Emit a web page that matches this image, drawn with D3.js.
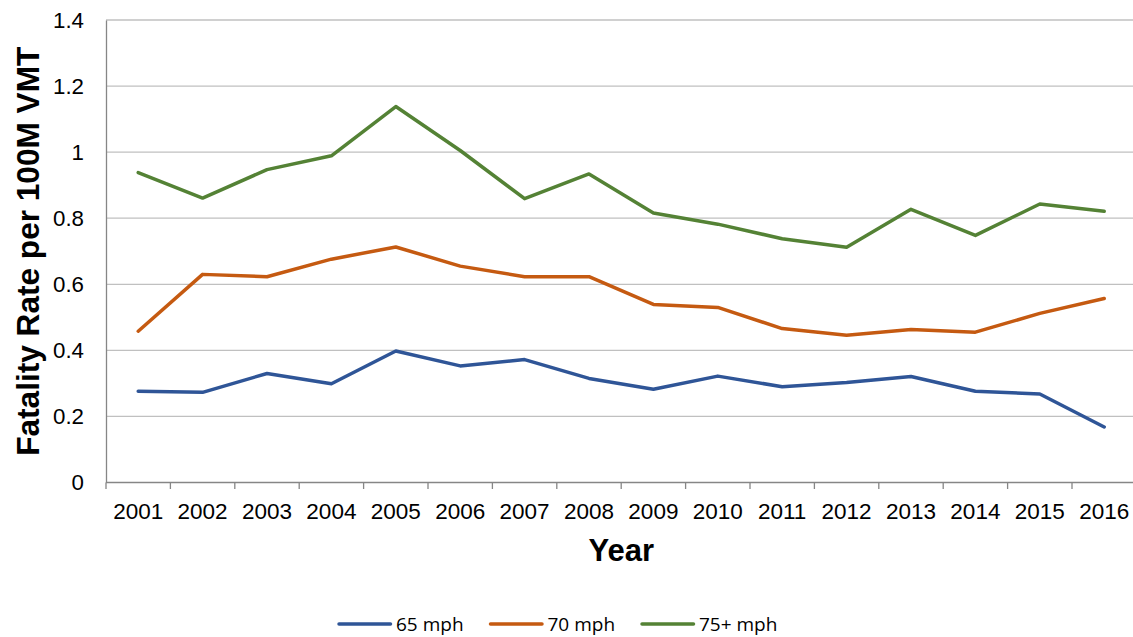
<!DOCTYPE html>
<html><head><meta charset="utf-8">
<script src="https://cdn.jsdelivr.net/npm/d3@7"></script>
<style>html,body{margin:0;padding:0;background:#fff;}svg{display:block;}</style>
</head><body>
<script>
const years = ["2001","2002","2003","2004","2005","2006","2007","2008","2009","2010","2011","2012","2013","2014","2015","2016"];
const mph65 = [0.276,0.273,0.330,0.299,0.398,0.353,0.372,0.315,0.282,0.322,0.290,0.303,0.321,0.276,0.268,0.168];
const mph70 = [0.458,0.630,0.623,0.676,0.713,0.655,0.623,0.623,0.539,0.530,0.466,0.446,0.463,0.455,0.512,0.557];
const mph75 = [0.938,0.861,0.947,0.989,1.138,1.005,0.859,0.934,0.816,0.782,0.738,0.712,0.827,0.748,0.843,0.821];
const yTicks = [0,0.2,0.4,0.6,0.8,1,1.2,1.4];
const seriesNames = ["65 mph","70 mph","75+ mph"];
const seriesColors = ["#2f5597","#c55a11","#548235"];

(function () {
const W = 1133, H = 637;
const svg = d3.select("body").append("svg").attr("width", W).attr("height", H);
const pL = 106, pR = 1136.4, pT = 20, pB = 482.5;

const x = d3.scaleBand().domain(years).range([pL, pR]).padding(0);
const y = d3.scaleLinear().domain([0, 1.4]).range([pB, pT]);

// gridlines
svg.append("g").selectAll("line").data(yTicks.filter(d => d > 0)).join("line")
  .attr("x1", pL).attr("x2", pR)
  .attr("y1", d => y(d)).attr("y2", d => y(d))
  .attr("stroke", "#c0c0c0").attr("stroke-width", 1.3);

// y axis
const yAxis = d3.axisLeft(y).tickValues(yTicks).tickSize(0).tickPadding(22)
  .tickFormat(d => d3.format("~g")(d));
const gy = svg.append("g").attr("transform", `translate(${pL},0)`).call(yAxis);
gy.select(".domain").attr("stroke", "#868686").attr("stroke-width", 1.3);
gy.selectAll("text").attr("font-family", "Liberation Sans, Arial, sans-serif")
  .attr("font-size", 22.3).attr("fill", "#000");

// x axis
const gx = svg.append("g").attr("transform", `translate(0,${pB})`);
gx.append("line").attr("x1", pL).attr("x2", pR).attr("y1", 0).attr("y2", 0)
  .attr("stroke", "#868686").attr("stroke-width", 1.3);
gx.selectAll("line.tk").data(years.concat(["end"])).join("line").attr("class", "tk")
  .attr("x1", (d, i) => i < years.length ? x(d) : pR)
  .attr("x2", (d, i) => i < years.length ? x(d) : pR)
  .attr("y1", 0).attr("y2", 6.5).attr("stroke", "#868686").attr("stroke-width", 1.3);
gx.selectAll("text").data(years).join("text")
  .attr("x", d => x(d) + x.bandwidth() / 2).attr("y", 36)
  .attr("text-anchor", "middle")
  .attr("font-family", "Liberation Sans, Arial, sans-serif").attr("font-size", 22.5)
  .attr("fill", "#000").text(d => d);

// axis titles
svg.append("text").attr("transform", `translate(39,${(pT + pB) / 2}) rotate(-90)`)
  .attr("text-anchor", "middle").attr("font-family", "Liberation Sans, Arial, sans-serif")
  .attr("font-weight", "bold").attr("font-size", 31.6).attr("fill", "#000")
  .text("Fatality Rate per 100M VMT");
svg.append("text").attr("x", (pL + pR) / 2).attr("y", 561)
  .attr("text-anchor", "middle").attr("font-family", "Liberation Sans, Arial, sans-serif")
  .attr("font-weight", "bold").attr("font-size", 31).attr("fill", "#000").text("Year");

// lines
const allSeries = [mph65, mph70, mph75];
const line = d3.line().x((d, i) => x(years[i]) + x.bandwidth() / 2).y(d => y(d));
svg.append("g").selectAll("path").data(allSeries).join("path")
  .attr("d", d => line(d)).attr("fill", "none")
  .attr("stroke", (d, i) => seriesColors[i]).attr("stroke-width", 3.5)
  .attr("stroke-linejoin", "round").attr("stroke-linecap", "round");

// legend
const lg = svg.append("g").attr("transform", "translate(339,624)");
const items = lg.selectAll("g").data(seriesNames).join("g")
  .attr("transform", (d, i) => `translate(${i * 151.5},0)`);
items.append("line").attr("x1", 0).attr("x2", 51.5).attr("y1", 0).attr("y2", 0)
  .attr("stroke", (d, i) => seriesColors[i]).attr("stroke-width", 3.5).attr("stroke-linecap", "round");
items.append("text").attr("x", 57).attr("y", 6.5)
  .attr("font-family", "Open Sans, Noto Sans, sans-serif").attr("font-size", 19)
  .attr("fill", "#000").text(d => d);
})();
</script>
</body></html>
